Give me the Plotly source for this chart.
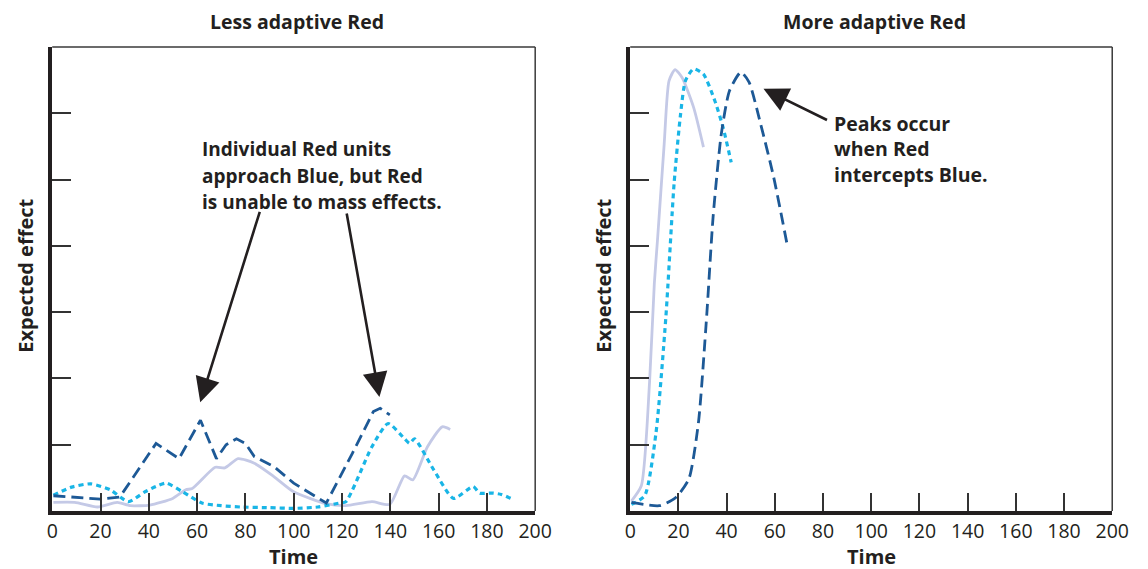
import plotly.graph_objects as go

# ---------------- data ----------------
# Left panel: Less adaptive Red
L_dark_t = [0.5, 20, 28, 43, 52.5, 61.4, 68, 72, 76.3, 80, 83.7, 91.8, 100, 113.5, 124.3, 133, 135.8, 139.8]
L_dark_v = [0.23, 0.18, 0.21, 1.02, 0.79, 1.37, 0.79, 1.0, 1.09, 1.02, 0.82, 0.67, 0.42, 0.12, 0.87, 1.5, 1.55, 1.45]

L_cyan_t = [0.5, 8, 16, 24, 31.6, 38, 43, 47.2, 54, 62, 70, 78, 90, 100, 110, 118.9, 121.6, 132.4, 139.1, 145.9, 148, 150, 158, 166.2, 174.3, 177, 182.4, 186, 190.5]
L_cyan_v = [0.24, 0.36, 0.41, 0.32, 0.14, 0.28, 0.37, 0.42, 0.29, 0.12, 0.08, 0.06, 0.05, 0.04, 0.06, 0.12, 0.14, 0.97, 1.32, 1.09, 1.02, 1.09, 0.62, 0.19, 0.37, 0.27, 0.27, 0.25, 0.18]

L_lav_t = [0.5, 9.3, 18.8, 26.9, 32.3, 40.4, 49.9, 55.3, 58, 67.5, 71.5, 77, 83.7, 91.8, 100, 113.5, 121.6, 132.4, 139.8, 145.9, 149.3, 155.4, 161.5, 164.8]
L_lav_v = [0.13, 0.13, 0.06, 0.13, 0.08, 0.09, 0.19, 0.32, 0.34, 0.66, 0.65, 0.79, 0.72, 0.52, 0.29, 0.11, 0.08, 0.14, 0.10, 0.53, 0.47, 0.97, 1.27, 1.23]

# Right panel: More adaptive Red
R_lav_t = [0.5, 4.6, 8, 10, 11.4, 14.1, 16.1, 18.6, 21.5, 26.3, 30.4]
R_lav_v = [0.15, 0.38, 1.93, 3.43, 4.13, 5.54, 6.49, 6.66, 6.54, 6.09, 5.49]

R_cyan_t = [0.5, 6, 10.7, 14.8, 18.2, 20.9, 22.9, 26.3, 30.4, 35.1, 38.5, 41.9]
R_cyan_v = [0.10, 0.23, 1.18, 2.93, 4.94, 5.99, 6.49, 6.67, 6.59, 6.19, 5.79, 5.26]

R_dark_t = [0.5, 12.1, 18.8, 24.3, 28.3, 31.7, 34.4, 37.8, 41.2, 45.9, 49.3, 54.1, 59.5, 65]
R_dark_v = [0.13, 0.08, 0.2, 0.48, 1.33, 2.93, 4.44, 5.69, 6.34, 6.62, 6.47, 5.84, 5.04, 4.04]

x_ticks = [0, 20, 40, 60, 80, 100, 120, 140, 160, 180, 200]
y_ticks = [1, 2, 3, 4, 5, 6]

panel_titles = ["Less adaptive Red", "More adaptive Red"]
left_note = ["Individual Red units", "approach Blue, but Red", "is unable to mass effects."]
right_note = ["Peaks occur", "when Red", "intercepts Blue."]

# ---------------- styles ----------------
DARK = "#1d5996"
CYAN = "#19b5e6"
LAV = "#c4c9e6"
INK = "#231f20"
FONT = "Open Sans"
OFF = 8                      # page body margin
W, H = 1148 - 2 * OFF, 569 - OFF

def px(X):   # reference pixel x -> paper
    return (X - OFF) / W

def py(Y):   # reference pixel y (from top) -> paper
    return (H - (Y - OFF)) / H

fig = go.Figure()

def add(x, y, color, dash, width, xa, ya, shape="linear"):
    fig.add_trace(go.Scatter(x=x, y=y, mode="lines", xaxis=xa, yaxis=ya,
                             line=dict(color=color, dash=dash, width=width, shape=shape,
                                       smoothing=0.6),
                             showlegend=False, hoverinfo="skip"))

add(L_lav_t, L_lav_v, LAV, "solid", 2.8, "x", "y", "spline")
add(L_cyan_t, L_cyan_v, CYAN, "5px,4px", 3.2, "x", "y", "spline")
add(L_dark_t, L_dark_v, DARK, "12px,6px", 2.8, "x", "y")
add(R_lav_t, R_lav_v, LAV, "solid", 2.8, "x2", "y2", "spline")
add(R_cyan_t, R_cyan_v, CYAN, "5px,4px", 3.2, "x2", "y2", "spline")
add(R_dark_t, R_dark_v, DARK, "12px,6px", 2.8, "x2", "y2", "spline")

ydom = [py(511), py(47)]
xd1 = [px(47), px(540)]
xd2 = [px(637), px(1129)]

xcommon = dict(range=[0, 200], tickvals=x_ticks, ticks="inside", ticklen=18, tickwidth=1.5,
               tickcolor="#333", showline=True, linewidth=4, linecolor=INK, showgrid=False,
               zeroline=False, tickfont=dict(family=FONT, size=19.5, color=INK), fixedrange=True)
ycommon = dict(range=[0, 7], tickvals=y_ticks, ticks="inside", ticklen=19, tickwidth=1.5,
               tickcolor="#333", showticklabels=False, showline=True, linewidth=4, linecolor=INK,
               showgrid=False, zeroline=False, fixedrange=True)

fig.update_layout(
    width=W, height=H, margin=dict(l=0, r=0, t=0, b=0),
    paper_bgcolor="white", plot_bgcolor="white",
    xaxis=dict(domain=xd1, anchor="y", **xcommon),
    yaxis=dict(domain=ydom, anchor="x", **ycommon),
    xaxis2=dict(domain=xd2, anchor="y2", **xcommon),
    yaxis2=dict(domain=ydom, anchor="x2", **ycommon),
    font=dict(family=FONT, color=INK),
)

# thin frame on top and right
for xr, yr in [("x domain", "y domain"), ("x2 domain", "y2 domain")]:
    fig.add_shape(type="line", xref=xr, yref=yr, x0=0, x1=1, y0=1, y1=1,
                  line=dict(color="#3a3a3a", width=1.5))
    fig.add_shape(type="line", xref=xr, yref=yr, x0=1, x1=1, y0=0, y1=1,
                  line=dict(color="#3a3a3a", width=1.5))

def ptxt(x, y, text, size=18, xanchor="center", angle=0, pad=1):
    fig.add_annotation(xref="paper", yref="paper", x=px(x), y=py(y), text=text,
                       showarrow=False, xanchor=xanchor, yanchor="middle", textangle=angle,
                       borderpad=pad, align="left",
                       font=dict(family=FONT, size=size, color=INK))

# panel titles
ptxt(297, 21.5, "<b>%s</b>" % panel_titles[0], size=19.5, pad=0)
ptxt(886, 21.5, "<b>%s</b>" % panel_titles[1], size=19.5, pad=0)
# axis titles
ptxt(293, 556, "<b>Time</b>", size=20, pad=0)
ptxt(883, 556, "<b>Time</b>", size=20, pad=0)
ptxt(20, 276, "<b>Expected effect</b>", size=20, angle=-90)
ptxt(610, 276, "<b>Expected effect</b>", size=20, angle=-90)

# notes
for i, line in enumerate(left_note):
    ptxt(199, 149 + 26.5 * i, "<b>%s</b>" % line, size=19, xanchor="left", pad=0)
ptxt(844, 149, "<br>".join("<b>%s</b>" % s for s in right_note), size=19.5, xanchor="left", pad=0)

# arrows
def arrow(xa, ya, x, y, ax, ay):
    fig.add_annotation(xref=xa, yref=ya, x=x, y=y, ax=ax, ay=ay, text="", showarrow=True,
                       arrowhead=2, arrowsize=1.9, arrowwidth=2.6, arrowcolor=INK)

arrow("x", "y", 61.3, 1.64, 60, -192)
arrow("x", "y", 135.5, 1.72, -33, -185)
arrow("x2", "y2", 55.3, 6.37, 65, 32)

fig.write_html("out.html")
